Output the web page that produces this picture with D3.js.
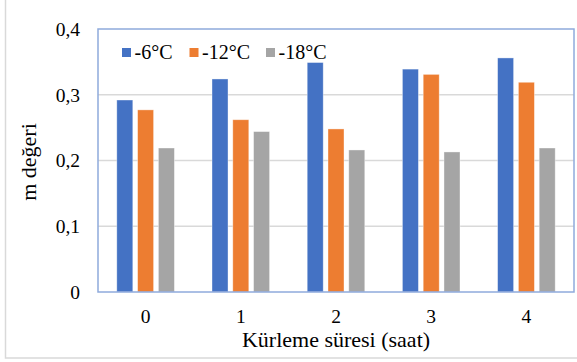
<!DOCTYPE html>
<html>
<head>
<meta charset="utf-8">
<script src="https://cdn.jsdelivr.net/npm/d3@7"></script>
<style>
  html, body { margin: 0; padding: 0; background: #fff; }
  svg { display: block; }
  text { font-family: "Liberation Serif", "Times New Roman", Tinos, "Noto Serif", "DejaVu Serif", serif; fill: #000; }
</style>
</head>
<body>
<svg id="chart" width="577" height="362"></svg>
<script>
const categories = ["0", "1", "2", "3", "4"];
const seriesNames = ["-6°C", "-12°C", "-18°C"];
const valuesM6  = [0.292, 0.324, 0.349, 0.339, 0.356];
const valuesM12 = [0.277, 0.262, 0.248, 0.331, 0.319];
const valuesM18 = [0.219, 0.244, 0.216, 0.213, 0.219];
const seriesColors = ["#4472C4", "#ED7D31", "#A5A5A5"];
const yTicks = [0, 0.1, 0.2, 0.3, 0.4];
const yTickLabels = ["0", "0,1", "0,2", "0,3", "0,4"];
const xTitle = "Kürleme süresi (saat)";
const yTitle = "m değeri";

const seriesValues = [valuesM6, valuesM12, valuesM18];
const FONT = '"Liberation Serif", "Times New Roman", Tinos, "Noto Serif", "DejaVu Serif", serif';

const svg = d3.select("#chart");
const plot = { left: 98, right: 574, top: 29, bottom: 292 };

svg.append("path")
  .attr("d", "M5.5,0 V358 H577")
  .attr("fill", "none")
  .attr("stroke", "#d9d9d9")
  .attr("stroke-width", 1.5);

const x0 = d3.scaleBand().domain(categories).range([plot.left, plot.right])
  .paddingInner(0.395).paddingOuter(0.1975);
const x1 = d3.scaleBand().domain(seriesNames).range([0, x0.bandwidth()])
  .paddingInner(0.23).paddingOuter(0);
const y = d3.scaleLinear().domain([0, 0.4]).range([plot.bottom, plot.top]);

svg.append("g").selectAll("line").data(yTicks.filter(d => d > 0 && d < 0.4)).join("line")
  .attr("x1", plot.left).attr("x2", plot.right)
  .attr("y1", d => y(d)).attr("y2", d => y(d))
  .attr("stroke", "#d9d9d9").attr("stroke-width", 1.5);

const groups = svg.append("g").selectAll("g").data(categories).join("g")
  .attr("transform", c => `translate(${x0(c)},0)`);
groups.selectAll("rect")
  .data((c, ci) => seriesNames.map((s, si) => ({ s, si, v: seriesValues[si][ci] })))
  .join("rect")
  .attr("x", d => x1(d.s))
  .attr("width", x1.bandwidth())
  .attr("y", d => y(d.v))
  .attr("height", d => y(0) - y(d.v))
  .attr("fill", d => seriesColors[d.si])
  .attr("stroke", "#ffffff").attr("stroke-opacity", 0.5).attr("stroke-width", 0.75);

svg.append("rect")
  .attr("x", plot.left).attr("y", plot.top)
  .attr("width", plot.right - plot.left).attr("height", plot.bottom - plot.top)
  .attr("fill", "none").attr("stroke", "#8FAADC").attr("stroke-width", 1.5);

const yAxis = d3.axisLeft(y).tickValues(yTicks)
  .tickFormat((d, i) => yTickLabels[i]).tickSize(0).tickPadding(18);
const gy = svg.append("g").attr("transform", `translate(${plot.left},0)`).call(yAxis);
gy.attr("font-family", FONT);
gy.select(".domain").remove();
gy.selectAll("text").attr("font-size", 19.5).attr("fill", "#000");

const xAxis = d3.axisBottom(x0).tickSize(0).tickPadding(17.5);
const gx = svg.append("g").attr("transform", `translate(0,${plot.bottom})`).call(xAxis);
gx.attr("font-family", FONT);
gx.select(".domain").remove();
gx.selectAll("text").attr("font-size", 19.5).attr("fill", "#000");

svg.append("text")
  .attr("x", (plot.left + plot.right) / 2).attr("y", 347)
  .attr("text-anchor", "middle").attr("font-size", 22)
  .text(xTitle);
svg.append("text")
  .attr("transform", "translate(36,162) rotate(-90)")
  .attr("text-anchor", "middle").attr("font-size", 22)
  .text(yTitle);

const legendX = [122, 189.5, 266];
const legend = svg.append("g").selectAll("g").data(seriesNames).join("g")
  .attr("transform", (d, i) => `translate(${legendX[i]},48)`);
legend.append("rect").attr("width", 9).attr("height", 9)
  .attr("fill", (d, i) => seriesColors[i]);
legend.append("text").attr("x", 12.5).attr("y", 10.5)
  .attr("font-size", 20).text(d => d);
</script>
</body>
</html>
